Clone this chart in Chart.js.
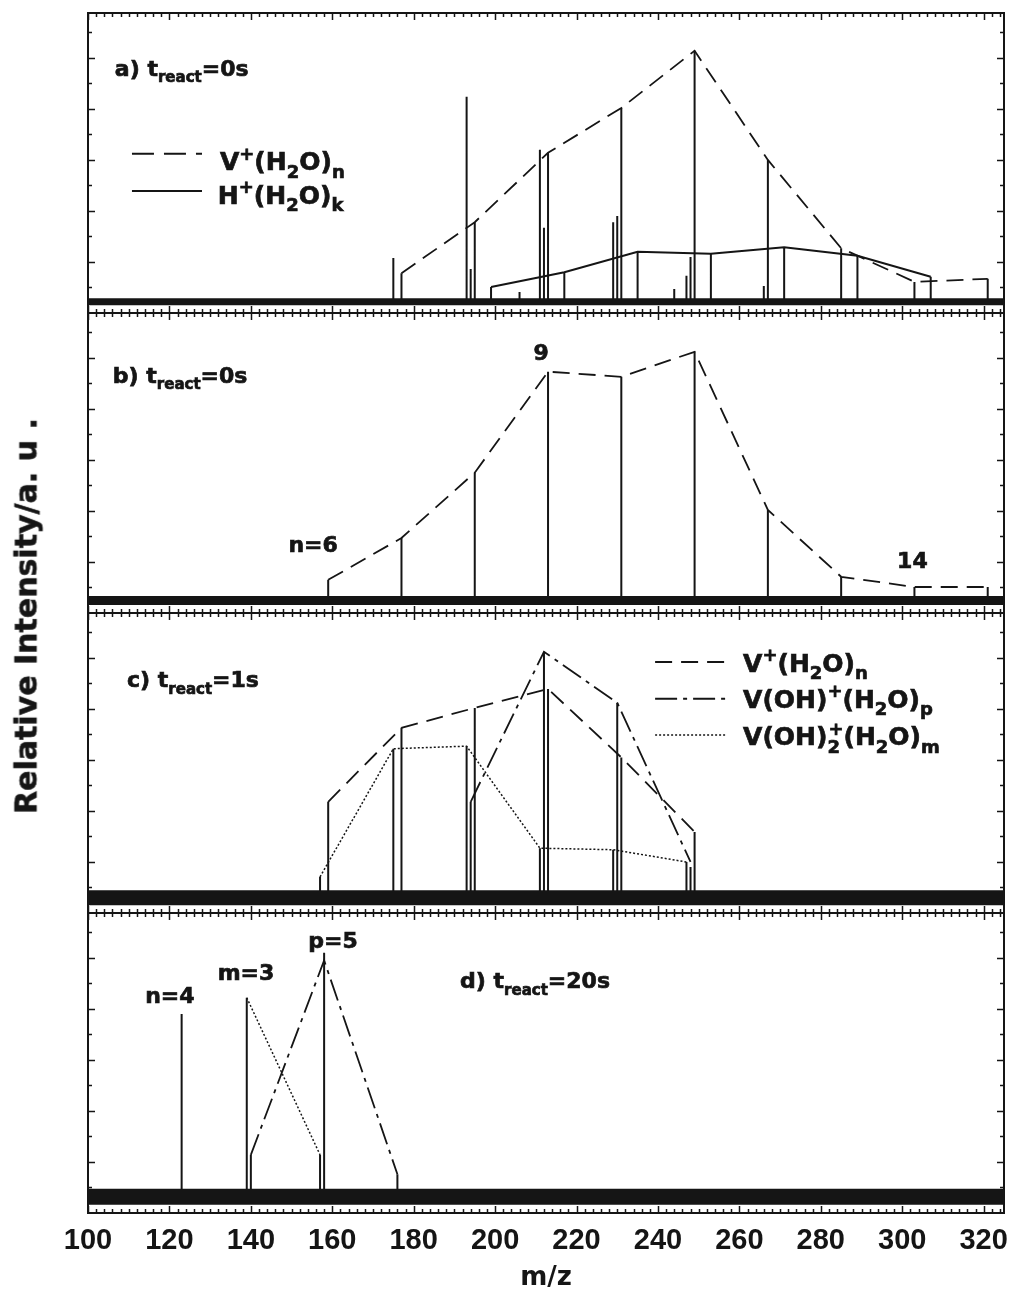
<!DOCTYPE html>
<html>
<head>
<meta charset="utf-8">
<script src="https://cdn.jsdelivr.net/npm/chart.js@4.4.1/dist/chart.umd.min.js"></script>
<style>
  html, body { margin: 0; padding: 0; background: #fff; }
  #fig { position: relative; width: 1012px; height: 1291px; overflow: hidden; background: #fff; }
  #fig canvas { position: absolute; left: 0; }
  #ytitle {
    position: absolute; left: 26px; top: 616px;
    transform: translate(-50%, -50%) rotate(-90deg);
    font: bold 30px "DejaVu Sans", sans-serif;
    -webkit-text-stroke: 0.6px #151515;
    white-space: nowrap; color: #151515;
  }
</style>
</head>
<body>
<div id="fig">
  <canvas id="panelA" width="1012" height="312" style="top:7px"></canvas>
  <canvas id="panelB" width="1012" height="312" style="top:307px"></canvas>
  <canvas id="panelC" width="1012" height="312" style="top:607px"></canvas>
  <canvas id="panelD" width="1040" height="384" style="top:907px"></canvas>
  <div id="ytitle">Relative Intensity/a. u .</div>
</div>
<script>
// m/z axis
const MZ_MIN = 100;
const MZ_MAX = 325;
const X_TICK_LABELS = [100, 120, 140, 160, 180, 200, 220, 240, 260, 280, 300, 320];
const Y_MAX = 5.88;

// a) t_react = 0 s
const A_BASE = 0.22;
const A_STICK_MZ = [175, 177, 193, 194, 195, 199, 206, 211, 212, 213, 217, 229, 230, 231, 235, 244, 247, 248, 249, 253, 266, 267, 271, 285, 289, 303, 307, 321];
const A_STICK_INT = [1.08, 0.78, 4.24, 0.86, 1.78, 0.51, 0.41, 3.20, 1.67, 3.14, 0.80, 1.78, 1.90, 4.02, 1.20, 0.47, 0.73, 1.10, 5.14, 1.16, 0.53, 3.00, 1.29, 1.27, 1.12, 0.61, 0.71, 0.67];
const A_VN_MZ = [177, 195, 213, 231, 249, 267, 285, 303, 321];
const A_VN_INT = [0.78, 1.78, 3.14, 4.02, 5.14, 3.00, 1.27, 0.61, 0.67];
const A_HK_MZ = [199, 217, 235, 253, 271, 289, 307];
const A_HK_INT = [0.51, 0.80, 1.20, 1.16, 1.29, 1.12, 0.71];

// b) t_react = 0 s
const B_BASE = 0.245;
const B_STICK_MZ = [159, 177, 195, 213, 231, 249, 267, 285, 303, 321];
const B_STICK_INT = [0.65, 1.47, 2.75, 4.73, 4.63, 5.12, 2.02, 0.71, 0.51, 0.51];
const B_VN_MZ = [159, 177, 195, 213, 231, 249, 267, 285, 303, 321];
const B_VN_INT = [0.65, 1.47, 2.75, 4.73, 4.63, 5.12, 2.02, 0.71, 0.51, 0.51];

// c) t_react = 1 s
const C_BASE = 0.30;
const C_STICK_MZ = [157, 159, 175, 177, 193, 194, 195, 211, 212, 213, 229, 230, 231, 247, 248, 249];
const C_STICK_INT = [0.71, 2.18, 3.22, 3.63, 3.27, 2.18, 4.02, 1.27, 5.12, 4.39, 1.24, 4.12, 3.05, 1.00, 0.90, 1.59];
const C_VN_MZ = [159, 177, 195, 213, 231, 249];
const C_VN_INT = [2.18, 3.63, 4.02, 4.39, 3.05, 1.59];
const C_VOHP_MZ = [194, 212, 230, 248];
const C_VOHP_INT = [2.18, 5.12, 4.12, 1.00];
const C_VOH2M_MZ = [157, 175, 193, 211, 229, 247];
const C_VOH2M_INT = [0.71, 3.22, 3.27, 1.27, 1.24, 1.00];

// d) t_react = 20 s
const D_BASE = 0.32;
const D_STICK_MZ = [123, 139, 140, 157, 158, 176];
const D_STICK_INT = [3.90, 4.22, 1.14, 1.14, 5.10, 0.76];
const D_VOHP_MZ = [140, 158, 176];
const D_VOHP_INT = [1.14, 4.95, 0.76];
const D_VOH2M_MZ = [139, 157];
const D_VOH2M_INT = [4.22, 1.14];

const INK = '#151515';
const TICK_FONT = '"Liberation Sans", Arial, Helvetica, sans-serif';
const TEXT_FONT = '"DejaVu Sans", sans-serif';
const DASH = [17, 9];
const DASH_DOT = [22, 6, 4, 6];
const DOT = [2, 2];

function points(mz, ints) {
  return mz.map((x, i) => ({ x, y: ints[i] }));
}

// vertical sticks from the noise baseline up to each peak top
function sticks(mz, ints, base) {
  const out = [];
  mz.forEach((x, i) => {
    out.push({ x, y: base }, { x, y: ints[i] }, { x, y: null });
  });
  return out;
}

function parseRich(s) {
  const out = [];
  let i = 0;
  const isMark = (k) => (s[k] === '_' || s[k] === '^') && s[k + 1] === '{';
  while (i < s.length) {
    if (isMark(i)) {
      const end = s.indexOf('}', i);
      out.push({ t: s.slice(i + 2, end), mode: s[i] === '_' ? 'sub' : 'sup' });
      i = end + 1;
    } else {
      let j = i;
      while (j < s.length && !isMark(j)) j++;
      out.push({ t: s.slice(i, j), mode: 'main' });
      i = j;
    }
  }
  return out;
}

function drawRich(ctx, s, x, y, size, align) {
  const segs = parseRich(s);
  const small = Math.round(size * 0.7);
  const font = (n) => `bold ${n}px ${TEXT_FONT}`;
  const shift = (m) => (m === 'sub' ? size * 0.3 : m === 'sup' ? -size * 0.42 : 0);
  const items = [];
  let pos = 0;
  for (let k = 0; k < segs.length; k++) {
    const sg = segs[k];
    const f = sg.mode === 'main' ? size : small;
    ctx.font = font(f);
    const w = ctx.measureText(sg.t).width;
    items.push({ t: sg.t, f, x: pos, dy: shift(sg.mode) });
    const next = segs[k + 1];
    if (sg.mode !== 'main' && next && next.mode !== 'main' && next.mode !== sg.mode) {
      // stacked sub + sup
      ctx.font = font(small);
      const w2 = ctx.measureText(next.t).width;
      items.push({ t: next.t, f: small, x: pos + 1, dy: shift(next.mode) });
      pos += Math.max(w, w2 + 1);
      k++;
    } else {
      pos += w;
    }
  }
  const x0 = align === 'center' ? x - pos / 2 : x;
  ctx.textAlign = 'left';
  ctx.textBaseline = 'alphabetic';
  ctx.fillStyle = INK;
  ctx.strokeStyle = INK;
  ctx.lineWidth = 0.7;
  ctx.setLineDash([]);
  items.forEach((it) => {
    ctx.font = font(it.f);
    ctx.fillText(it.t, x0 + it.x, y + it.dy);
    ctx.strokeText(it.t, x0 + it.x, y + it.dy);
  });
}

// frame with inward ticks on all four sides, plus panel texts and legend keys
function panelPlugin(notes) {
  return {
    id: 'panelDeco',
    afterDatasetsDraw(chart) {
      const { ctx, chartArea: a } = chart;
      const x = chart.scales.x;
      const y = chart.scales.y;
      ctx.save();
      ctx.strokeStyle = INK;
      ctx.lineWidth = 1.5;
      ctx.beginPath();
      for (let v = MZ_MIN; v <= MZ_MAX; v += 2) {
        const px = Math.round(x.getPixelForValue(v)) + 0.5;
        const len = v % 20 === 0 ? 7 : 4;
        ctx.moveTo(px, a.top); ctx.lineTo(px, a.top + len);
        ctx.moveTo(px, a.bottom); ctx.lineTo(px, a.bottom - len);
      }
      for (let k = 1; k * 0.5 < y.max; k++) {
        const py = Math.round(y.getPixelForValue(k * 0.5)) + 0.5;
        const len = k % 2 === 0 ? 7 : 4;
        ctx.moveTo(a.left, py); ctx.lineTo(a.left + len, py);
        ctx.moveTo(a.right, py); ctx.lineTo(a.right - len, py);
      }
      ctx.stroke();
      ctx.lineWidth = 2;
      ctx.strokeRect(a.left, a.top, a.right - a.left, a.bottom - a.top);

      (notes.keys || []).forEach((k) => {
        ctx.beginPath();
        ctx.lineWidth = k.width || 2;
        ctx.setLineDash(k.dash);
        const py = y.getPixelForValue(k.y);
        ctx.moveTo(x.getPixelForValue(k.x1), py);
        ctx.lineTo(x.getPixelForValue(k.x2), py);
        ctx.stroke();
      });
      ctx.setLineDash([]);

      (notes.texts || []).forEach((t) => {
        drawRich(ctx, t.s, x.getPixelForValue(t.x), y.getPixelForValue(t.y), t.size, t.align);
      });
      ctx.restore();
    }
  };
}

function makePanel(id, opt) {
  const datasets = [
    {
      data: [{ x: MZ_MIN, y: opt.base }, { x: MZ_MAX, y: opt.base }],
      borderColor: INK, borderWidth: opt.band, borderCapStyle: 'butt'
    },
    {
      data: sticks(opt.stickMz, opt.stickInt, opt.base),
      borderColor: INK, borderWidth: 2, spanGaps: false
    }
  ];
  opt.curves.forEach((c) => {
    datasets.push({
      data: points(c.mz, c.int),
      borderColor: INK, borderWidth: c.width || 1.8, borderDash: c.dash
    });
  });

  const xScale = {
    type: 'linear', min: MZ_MIN, max: MZ_MAX, display: false
  };
  if (opt.showAxis) {
    Object.assign(xScale, {
      display: true,
      position: 'bottom',
      grid: { display: false, drawTicks: false },
      border: { display: false },
      afterBuildTicks: (s) => { s.ticks = X_TICK_LABELS.map((v) => ({ value: v })); },
      afterFit: (s) => { s.height = 78; },
      ticks: {
        autoSkip: false, maxRotation: 0, padding: 11, color: INK,
        font: { family: TICK_FONT, size: 29, weight: 'bold' }
      },
      title: {
        display: true, text: 'm/z', color: INK,
        font: { family: TEXT_FONT, size: 26, weight: 'bold' },
        padding: { top: 0, bottom: -3 }
      }
    });
  }

  return new Chart(document.getElementById(id), {
    type: 'scatter',
    data: { datasets },
    options: {
      responsive: false,
      animation: false,
      devicePixelRatio: 1,
      showLine: true,
      elements: { point: { radius: 0, hoverRadius: 0 }, line: { tension: 0 } },
      layout: { padding: { left: 88, right: opt.padRight || 8, top: 6, bottom: opt.showAxis ? 0 : 6 } },
      scales: {
        x: xScale,
        y: { type: 'linear', min: 0, max: Y_MAX, display: false }
      },
      plugins: { legend: { display: false }, tooltip: { enabled: false } }
    },
    plugins: [panelPlugin(opt.notes)]
  });
}

makePanel('panelA', {
  base: A_BASE, band: 7,
  stickMz: A_STICK_MZ, stickInt: A_STICK_INT,
  curves: [
    { mz: A_VN_MZ, int: A_VN_INT, dash: DASH },
    { mz: A_HK_MZ, int: A_HK_INT, dash: [], width: 2 }
  ],
  notes: {
    texts: [
      { s: 'a) t_{react}=0s', x: 106.6, y: 4.65, size: 22 },
      { s: 'V^{+}(H_{2}O)_{n}', x: 132.4, y: 2.80, size: 25 },
      { s: 'H^{+}(H_{2}O)_{k}', x: 131.9, y: 2.14, size: 25 }
    ],
    keys: [
      { x1: 110.8, x2: 128.0, y: 3.12, dash: [22, 10] },
      { x1: 110.8, x2: 128.0, y: 2.39, dash: [] }
    ]
  }
});

makePanel('panelB', {
  base: B_BASE, band: 9,
  stickMz: B_STICK_MZ, stickInt: B_STICK_INT,
  curves: [{ mz: B_VN_MZ, int: B_VN_INT, dash: DASH }],
  notes: {
    texts: [
      { s: 'b) t_{react}=0s', x: 106.1, y: 4.51, size: 22 },
      { s: 'n=6', x: 155.3, y: 1.20, size: 22, align: 'center' },
      { s: '9', x: 211.3, y: 4.96, size: 22, align: 'center' },
      { s: '14', x: 302.5, y: 0.88, size: 22, align: 'center' }
    ]
  }
});

makePanel('panelC', {
  base: C_BASE, band: 15,
  stickMz: C_STICK_MZ, stickInt: C_STICK_INT,
  curves: [
    { mz: C_VN_MZ, int: C_VN_INT, dash: DASH },
    { mz: C_VOHP_MZ, int: C_VOHP_INT, dash: DASH_DOT },
    { mz: C_VOH2M_MZ, int: C_VOH2M_INT, dash: DOT, width: 1.5 }
  ],
  notes: {
    texts: [
      { s: 'c) t_{react}=1s', x: 109.6, y: 4.43, size: 22 },
      { s: 'V^{+}(H_{2}O)_{n}', x: 260.9, y: 4.73, size: 25 },
      { s: 'V(OH)^{+}(H_{2}O)_{p}', x: 260.9, y: 4.02, size: 25 },
      { s: 'V(OH)_{2}^{+}(H_{2}O)_{m}', x: 260.9, y: 3.29, size: 25 }
    ],
    keys: [
      { x1: 239.3, x2: 256.5, y: 4.92, dash: DASH },
      { x1: 239.3, x2: 256.5, y: 4.20, dash: DASH_DOT },
      { x1: 239.3, x2: 256.5, y: 3.49, dash: DOT, width: 1.5 }
    ]
  }
});

makePanel('panelD', {
  base: D_BASE, band: 16, showAxis: true, padRight: 36,
  stickMz: D_STICK_MZ, stickInt: D_STICK_INT,
  curves: [
    { mz: D_VOHP_MZ, int: D_VOHP_INT, dash: DASH_DOT },
    { mz: D_VOH2M_MZ, int: D_VOH2M_INT, dash: DOT, width: 1.5 }
  ],
  notes: {
    texts: [
      { s: 'n=4', x: 120.1, y: 4.12, size: 22, align: 'center' },
      { s: 'm=3', x: 138.8, y: 4.57, size: 22, align: 'center' },
      { s: 'p=5', x: 160.2, y: 5.20, size: 22, align: 'center' },
      { s: 'd) t_{react}=20s', x: 191.4, y: 4.41, size: 22 }
    ]
  }
});
</script>
</body>
</html>
